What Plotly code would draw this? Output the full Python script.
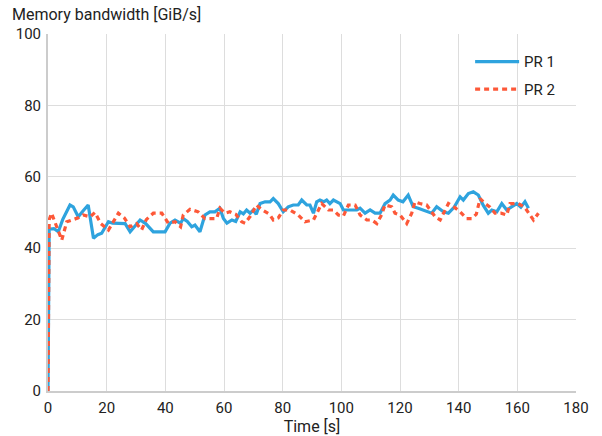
import plotly.graph_objects as go

# PR 1 series (time [s], bandwidth [GiB/s])
pr1_t = [0, 0.4, 2, 3.5, 5, 7.5, 8.6, 10.3, 12, 13.7, 15.5, 17, 18.3, 20.6, 22, 24, 26.3, 28, 30, 31.4,
         33.3, 35.9, 38, 39.9, 41.6, 43.3, 45.2, 46.1, 47.5, 49, 50.1, 51.8, 53.5, 55.2, 56.9, 58.6, 59.8,
         61, 62.7, 64, 65.5, 66.6, 67.7, 68.9, 70, 71, 72.3, 74, 75.7, 76.8, 78.5, 80.2, 81.9, 83.6, 85.3,
         86.5, 88.2, 89.3, 90.5, 91.6, 92.7, 94, 95, 96.1, 97.3, 98.5, 99.6, 100.7, 103, 105.3, 106.4,
         108.1, 109.8, 111.5, 113.2, 114.9, 116.6, 117.7, 119.4, 121, 122.8, 124.5, 126.2, 127.9, 129.5,
         130.8, 132.5, 134.8, 136.5, 138.5, 140.5, 141.6, 143.3, 145, 146.7, 148.4, 150.1, 151.3, 153,
         154.7, 156.4, 158.1, 159.8, 161.2, 162.6, 163.8]
pr1_v = [0, 45.3, 45.5, 44.6, 48, 52.1, 51.6, 48.8, 50.5, 52.1, 42.8, 43.8, 44.2, 47.4, 47, 47, 46.9, 44.6,
         46.5, 47.9, 46.9, 44.6, 44.6, 44.6, 47, 47.9, 47, 48.3, 47.5, 46, 46.5, 44.6, 49.3, 50.2, 50.2,
         51.2, 48.3, 47, 47.9, 47.5, 50.2, 49.6, 50.7, 49.8, 50.7, 49.5, 52.5, 53, 53, 53.9, 52.5, 50.2,
         51.6, 52.1, 52.1, 53.5, 52.1, 52.1, 49.8, 53, 53.5, 53, 53.5, 52.5, 53.5, 53, 52.5, 50.7, 50.7,
         50.7, 51.2, 49.8, 50.7, 49.8, 49.8, 52.5, 53.5, 54.9, 53.5, 53, 54.9, 51.6, 51.2, 50.7, 50.2,
         49.8, 51.6, 50.2, 49.8, 51.5, 54.4, 53.5, 55.3, 55.8, 54.9, 52, 49.8, 50.7, 50.2, 52.5, 50.7,
         51.5, 52.5, 51.5, 53, 51.2]

# PR 2 series
pr2_t = [0, 0.4, 1.2, 2.5, 3.5, 4.7, 6.4, 8.6, 10.3, 12, 14.4, 16, 18, 20.6, 22.3, 24, 26, 28, 30.2, 31.9,
         33.5, 35.9, 38.8, 41, 43.3, 45.2, 46.1, 48.4, 51.2, 53.5, 55.8, 57.5, 58.6, 60.3, 62, 64, 66,
         67.2, 69, 71.1, 72.5, 74, 75.5, 76.8, 78.5, 80.2, 82.5, 85.3, 87.6, 90.5, 92.2, 93.3, 95.6, 97.3,
         99, 100.7, 102.4, 104.7, 106.4, 108.7, 110.4, 112.1, 113.5, 114.9, 117.2, 118.3, 120, 122.3, 124,
         125.1, 126.8, 129.1, 130.5, 132, 133.7, 136.5, 138.5, 140.5, 142.7, 144.5, 146, 147.3, 149,
         150.7, 152.4, 154.4, 156.4, 157.5, 160.3, 162.5, 164.3, 165.5, 167.2]
pr2_v = [0, 48, 49.8, 47, 45, 42.3, 47.4, 47.9, 48.5, 49.3, 48.8, 50, 46.9, 45.1, 47.5, 49.8, 48.5, 46,
         46.9, 45.1, 48, 49.8, 49.8, 47, 47.4, 46, 49.3, 50.9, 50.2, 48.3, 48.3, 48.3, 51.2, 49.8, 50.2,
         49.5, 47.4, 47, 49, 52.1, 51, 50.2, 49.5, 47.9, 48.5, 50.7, 50.7, 49.3, 47.4, 47.9, 50.7, 52.5,
         50.7, 50.7, 49.3, 49, 52.1, 52.1, 49.3, 47.9, 47.9, 46.9, 49, 52.1, 51.6, 49.8, 49.3, 46.9, 49.8,
         53, 52.5, 52.1, 50.5, 48.8, 47.9, 52.5, 51.5, 50.2, 48.3, 48.3, 49.5, 53.9, 52.5, 51.5, 49.8,
         49.8, 49.3, 52.5, 52.5, 51.5, 49.3, 47.9, 49.8]

series_names = ["PR 1", "PR 2"]
x_ticks = [0, 20, 40, 60, 80, 100, 120, 140, 160, 180]
y_ticks = [0, 20, 40, 60, 80, 100]

BLUE = "#2ea3de"
RED = "#fd5838"
FONT = "Roboto"

fig = go.Figure()
fig.add_trace(go.Scatter(x=pr1_t, y=pr1_v, mode="lines", name=series_names[0],
                         legendgroup="a",
                         line=dict(color=BLUE, width=3.2)))
fig.add_trace(go.Scatter(x=pr2_t, y=pr2_v, mode="lines", name=series_names[1],
                         legendgroup="b",
                         line=dict(color=RED, width=3.2, dash="5px,4px")))

fig.update_layout(
    width=602, height=436,
    margin=dict(l=48, r=26, t=34, b=45, autoexpand=False),
    paper_bgcolor="white", plot_bgcolor="white",
    font=dict(family=FONT, size=15, color="#222222"),
    showlegend=True,
    legend=dict(x=0.79 + 5 / 528, y=0.985 - 6 / 357, xanchor="left", yanchor="top",
                bgcolor="rgba(0,0,0,0)", font=dict(size=15, color="#222222"),
                itemwidth=44, tracegroupgap=5),
    xaxis=dict(range=[0, 180], tickvals=x_ticks, showgrid=True, gridcolor="#dddddd", gridwidth=1,
               showline=True, linecolor="#cccccc", linewidth=2, zeroline=False, automargin=False,
               ticks="", ticklabelstandoff=2,
               title=dict(text="Time [s]", font=dict(size=16), standoff=5)),
    yaxis=dict(range=[0, 100], tickvals=y_ticks, showgrid=True, gridcolor="#dddddd", gridwidth=1,
               showline=True, linecolor="#cccccc", linewidth=2, zeroline=False, automargin=False,
               ticks="", ticklabelstandoff=2),
    annotations=[dict(text="Memory bandwidth [GiB/s]", xref="paper", yref="paper",
                      x=(10 - 48) / 528, y=1 + (34 - 15) / 357, xanchor="left", yanchor="middle",
                      showarrow=False, font=dict(size=16, color="#222222"))],
)

fig.write_html("out.html", config={"displayModeBar": False},
               post_script="document.body.style.margin='0';")
